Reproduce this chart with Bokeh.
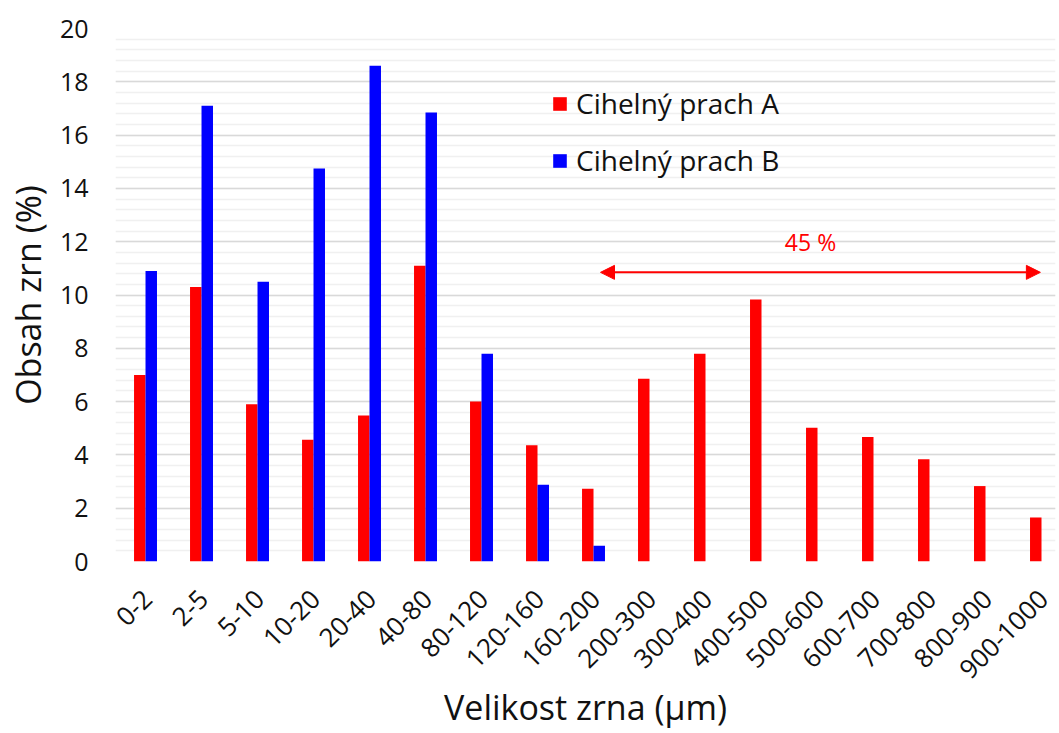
import numpy as np
from bokeh.plotting import figure
from bokeh.models import (Legend, LegendItem, Label, Arrow, NormalHead, LinearAxis,
                          SingleIntervalTicker, FixedTicker, Range1d)
from bokeh.embed import file_html
from bokeh.resources import INLINE


categories = ["0-2", "2-5", "5-10", "10-20", "20-40", "40-80", "80-120", "120-160",
              "160-200", "200-300", "300-400", "400-500", "500-600", "600-700",
              "700-800", "800-900", "900-1000"]
prach_a = [7.0, 10.3, 5.9, 4.57, 5.48, 11.1, 6.0, 4.36, 2.73,
           6.86, 7.8, 9.83, 5.02, 4.67, 3.84, 2.83, 1.65]
prach_b = [10.9, 17.1, 10.5, 14.75, 18.6, 16.85, 7.8, 2.88, 0.59,
           0, 0, 0, 0, 0, 0, 0, 0]
label_a = "Cihelný prach A"
label_b = "Cihelný prach B"
note_text = "45 %"

FONT = "Open Sans"
RED = "#ff0000"
BLUE = "#0000ff"
TEXT = "#111111"
BAR_W = 0.205
X0, X1 = -0.536, 16.25
LBL_SHIFT = 0.04  # posun popisku kategorii

idx = np.arange(len(categories))

p = figure(width=1059, height=733, output_backend="svg", toolbar_location=None,
           x_range=Range1d(X0, X1), y_range=Range1d(0, 20),
           min_border_left=115, min_border_top=28, min_border_bottom=172,
           min_border_right=4, x_axis_location=None)
p.outline_line_color = None
p.extra_x_ranges = {"lbl": Range1d(X0 - LBL_SHIFT, X1 - LBL_SHIFT)}

r_a = p.vbar(x=idx - BAR_W / 2, top=prach_a, width=BAR_W, color=RED, line_color=None)
r_b = p.vbar(x=idx + BAR_W / 2, top=prach_b, width=BAR_W, color=BLUE, line_color=None)

# osa x s popisky kategorii
xax = LinearAxis(x_range_name="lbl", ticker=FixedTicker(ticks=list(idx)))
xax.major_label_overrides = {int(i): c for i, c in zip(idx, categories)}
xax.major_label_orientation = np.pi / 4
p.add_layout(xax, "below")

p.yaxis.ticker = SingleIntervalTicker(interval=2, num_minor_ticks=5)
p.ygrid.grid_line_color = "#d9d9d9"
p.ygrid.grid_line_width = 1.5
p.ygrid.minor_grid_line_color = "#f0f0f0"
p.ygrid.minor_grid_line_width = 1.5
p.xgrid.grid_line_color = None

for ax in (xax, p.yaxis[0]):
    ax.axis_line_color = None
    ax.major_tick_line_color = None
    ax.minor_tick_line_color = None
    ax.major_tick_out = 0
    ax.major_tick_in = 0
    ax.minor_tick_out = 0
    ax.minor_tick_in = 0
    ax.major_label_text_font = FONT
    ax.major_label_text_color = TEXT
    ax.axis_label_text_font = FONT
    ax.axis_label_text_font_style = "normal"
    ax.axis_label_text_color = TEXT

p.yaxis.major_label_text_font_size = "25px"
p.yaxis.major_label_standoff = 27
p.yaxis.axis_label = "Obsah zrn (%)"
p.yaxis.axis_label_text_font_size = "34px"
p.yaxis.axis_label_standoff = 6

xax.major_label_text_font_size = "26px"
xax.major_label_standoff = 33
xax.axis_label = "Velikost zrna (\u03bcm)"
xax.axis_label_text_font_size = "34px"
xax.axis_label_standoff = -6

legend = Legend(items=[LegendItem(label=label_a, renderers=[r_a]),
                       LegendItem(label=label_b, renderers=[r_b])],
                location=(436, 382))
legend.border_line_color = None
legend.background_fill_alpha = 0
legend.padding = 0
legend.margin = 0
legend.spacing = 19
legend.glyph_width = 17
legend.glyph_height = 17
legend.label_text_font = FONT
legend.label_text_font_size = "28px"
legend.label_text_color = TEXT
legend.label_standoff = 8
p.add_layout(legend)

# sipka 45 %
p.add_layout(Arrow(start=NormalHead(size=14, fill_color=RED, line_color=RED),
                   end=NormalHead(size=14, fill_color=RED, line_color=RED),
                   x_start=8.125, y_start=10.85, x_end=15.98, y_end=10.85,
                   line_color=RED, line_width=2))
p.add_layout(Label(x=11.875, y=11.98, text=note_text, text_align="center",
                   text_baseline="middle", text_color=RED, text_font=FONT,
                   text_font_size="23px"))

open("out.html", "w").write(file_html(p, INLINE))
